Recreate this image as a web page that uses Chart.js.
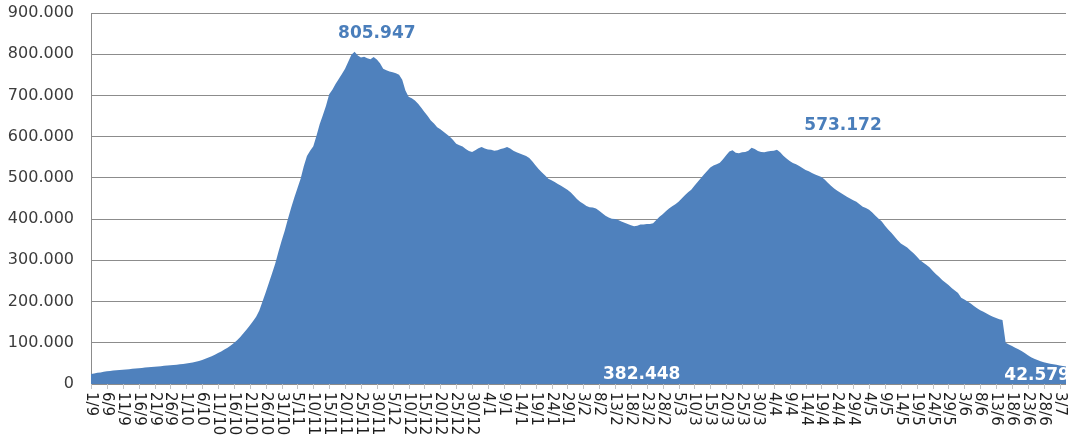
<!DOCTYPE html>
<html>
<head>
<meta charset="utf-8">
<script src="https://cdn.jsdelivr.net/npm/chart.js@4/dist/chart.umd.min.js"></script>
<style>
  html, body { margin: 0; padding: 0; background: #fff; }
</style>
</head>
<body>
<canvas id="chart" width="1070" height="444"></canvas>
<script>
// Daily values from 1/9 to 5/7 (one per day)
const months = [[9, 30], [10, 31], [11, 30], [12, 31], [1, 31], [2, 28], [3, 31], [4, 30], [5, 31], [6, 30], [7, 5]];

const values = [
  24000, 25500, 27000, 28000, 29500, 31000, 31800, 32500, 33200, 33800,
  34500, 35300, 36000, 36800, 37500, 38200, 39000, 39800, 40500, 41200,
  42000, 42600, 43300, 44000, 44800, 45500, 46200, 47000, 47700, 48500,
  49500, 50800, 52300, 54000, 56000, 58500, 61000, 64000, 67500, 71000,
  75000, 79000, 83500, 88000, 93500, 99500, 106000, 114000, 123000, 132000,
  142000, 152000, 163000, 178000, 200000, 222000, 245000, 268000, 292000, 320000,
  347000, 372000, 400000, 427000, 452000, 475000, 498000, 528000, 553000, 566000,
  577000, 602000, 630000, 652000, 675000, 703000, 714000, 728000, 740000, 752000,
  765000, 782000, 799000, 805947, 797000, 792000, 794000, 790000, 788000, 793000,
  787000, 778000, 765000, 761000, 758000, 756000, 754000, 750000, 738000, 712000,
  697000, 693000, 688000, 680000, 670000, 660000, 650000, 639000, 632000, 623000,
  618000, 612000, 606000, 600000, 592000, 583000, 579000, 576000, 570000, 565000,
  563000, 567000, 572000, 575000, 571000, 569000, 568000, 566000, 567000, 570000,
  572000, 575000, 571000, 566000, 562000, 559000, 556000, 553000, 548000, 540000,
  530000, 521000, 513000, 506000, 498000, 494000, 490000, 485000, 481000, 476000,
  471000, 465000, 457000, 449000, 442000, 437000, 432000, 429000, 428000, 426000,
  420000, 414000, 408000, 404000, 401000, 400000, 398000, 394000, 391000, 388000,
  385000, 382448, 384000, 387000, 387000, 388000, 388000, 390000, 398000, 406000,
  412000, 419000, 426000, 431000, 436000, 442000, 450000, 458000, 465000, 471000,
  481000, 490000, 499000, 508000, 517000, 525000, 530000, 533000, 537000, 545000,
  555000, 564000, 567000, 561000, 560000, 562000, 563000, 566000, 573172, 570000,
  565000, 563000, 562000, 564000, 565000, 566000, 568000, 562000, 554000, 547000,
  541000, 536000, 533000, 529000, 524000, 519000, 516000, 512000, 508000, 505000,
  502000, 496000, 488000, 481000, 474000, 469000, 464000, 459000, 454000, 450000,
  446000, 442000, 436000, 430000, 427000, 423000, 416000, 408000, 401000, 394000,
  384000, 375000, 367000, 358000, 349000, 341000, 336000, 331000, 324000, 317000,
  309000, 301000, 295000, 289000, 283000, 275000, 267000, 260000, 252000, 246000,
  240000, 233000, 227000, 221000, 209000, 205000, 200000, 195000, 189000, 184000,
  179000, 175000, 171000, 167000, 163000, 160000, 157000, 155000, 100000, 96000,
  92000, 88000, 84000, 80000, 75000, 70000, 65000, 61000, 58000, 55000,
  53000, 51000, 49000, 48000, 46500, 45000, 43800, 42579
];

// value labels: which point they show, and where they sit (day index, value)
const notes = [
  { point: 83, day: 90, at: 851000, color: '#4A7EBB' },
  { point: 208, day: 236.8, at: 626000, color: '#4A7EBB' },
  { point: 171, day: 173.4, at: 23800, color: '#ffffff' },
  { point: 307, day: 297.9, at: 20600, color: '#ffffff' }
];

const days = [];
months.forEach(([m, n]) => {
  for (let d = 1; d <= n; d++) days.push(d + '/' + m);
});

function fmt(n) {
  return String(n).replace(/\B(?=(\d{3})+(?!\d))/g, '.');
}

// rotated day labels (reading downwards) and value labels
const dayAxis = {
  id: 'dayAxis',
  afterDraw(chart) {
    const { ctx, scales: { x, y } } = chart;
    const base = y.getPixelForValue(0);
    ctx.save();
    ctx.strokeStyle = '#c4c4c4';
    ctx.lineWidth = 1;
    ctx.font = '15px "DejaVu Sans"';
    ctx.fillStyle = '#1e1e1e';
    ctx.textAlign = 'left';
    ctx.textBaseline = 'middle';
    days.forEach((d, i) => {
      if (i % 5) return;
      const px = Math.round(x.getPixelForValue(i));
      ctx.beginPath();
      ctx.moveTo(px + 0.5, base);
      ctx.lineTo(px + 0.5, base + 5);
      ctx.stroke();
      ctx.save();
      ctx.setTransform(0, 1, -1, 0, px, base + 8);
      ctx.fillText(d, 0, 0);
      ctx.restore();
    });

    ctx.font = 'bold 17px "DejaVu Sans"';
    ctx.textAlign = 'center';
    notes.forEach(n => {
      ctx.fillStyle = n.color;
      ctx.fillText(fmt(values[n.point]), x.getPixelForValue(n.day), y.getPixelForValue(n.at));
    });
    ctx.restore();
  }
};

new Chart(document.getElementById('chart'), {
  type: 'line',
  data: {
    labels: days,
    datasets: [{
      data: values,
      fill: 'origin',
      backgroundColor: '#4F81BD',
      borderWidth: 0,
      pointRadius: 0,
      tension: 0
    }]
  },
  options: {
    responsive: false,
    animation: false,
    layout: {
      padding: { left: 8, top: 13, right: 4, bottom: 60 }
    },
    plugins: {
      legend: { display: false },
      tooltip: { enabled: false }
    },
    scales: {
      x: {
        display: false,
        offset: false
      },
      y: {
        min: 0,
        max: 900000,
        afterFit: s => { s.width = 83; },
        ticks: {
          stepSize: 100000,
          padding: 0,
          color: '#3c3c3c',
          font: { family: 'DejaVu Sans', size: 16 },
          callback: v => fmt(v)
        },
        grid: {
          color: '#8c8c8c',
          lineWidth: 1,
          drawTicks: true,
          tickLength: 17,
          tickColor: 'rgba(0,0,0,0)'
        },
        border: {
          display: true,
          color: '#8c8c8c',
          width: 1
        }
      }
    }
  },
  plugins: [dayAxis]
});
</script>
</body>
</html>
